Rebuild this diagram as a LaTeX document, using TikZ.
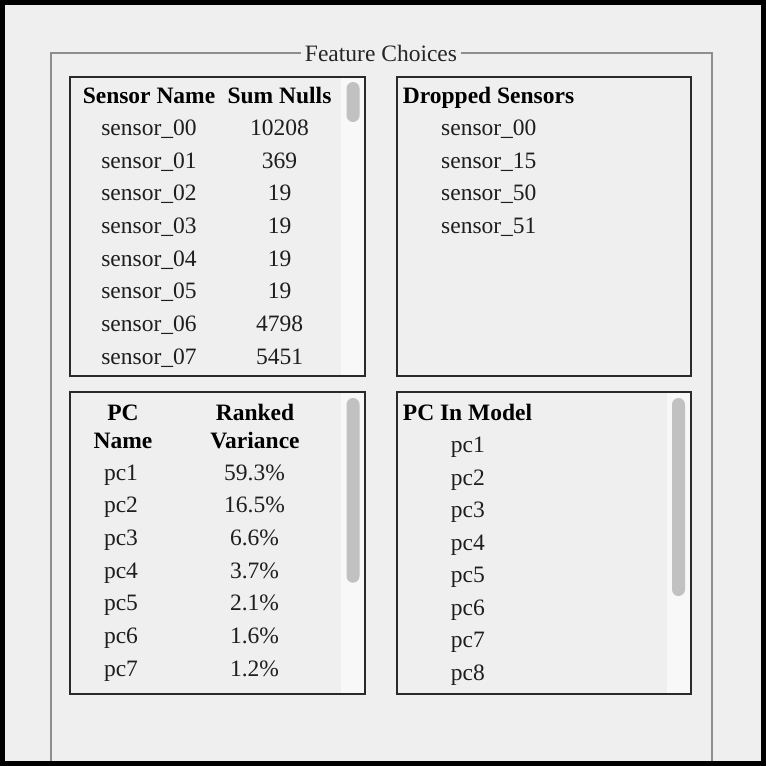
\documentclass[tikz,border=0pt]{standalone}
\usepackage{fontspec}
\setmainfont{Liberation Serif}
\definecolor{bg}{HTML}{EFEFEF}
\definecolor{fsline}{HTML}{8E8E8E}
\definecolor{boxline}{HTML}{2A2A2A}
\definecolor{track}{HTML}{F8F8F8}
\definecolor{thumbc}{HTML}{C1C1C1}
\definecolor{txt}{HTML}{1E1E1E}
\tikzset{
  lbl/.style={inner sep=0pt, font=\fontsize{23.5}{28}\selectfont, text=txt},
  hdr/.style={lbl, font=\fontsize{23.5}{28}\selectfont\bfseries, text=black},
  fsl/.style={draw=fsline, line width=2pt},
  boxr/.style={draw=boxline, line width=2pt},
  trackr/.style={fill=track},
  thumbr/.style={fill=thumbc, rounded corners=6.5pt},
}
\begin{document}
\begin{tikzpicture}[x=1pt,y=-1pt]
\useasboundingbox (0,0) rectangle (766,766);
\fill[black] (0,0) rectangle (766,766);
\fill[bg] (5,5) rectangle (761,761);
% fieldset
\node[lbl, anchor=base, text=black!85, inner xsep=3.5pt] (title) at (381,61.7) {Feature Choices};
\coordinate (fsy) at (0,52.7);
\draw[fsl] (title.west |- fsy) -- (50.7,52.7) -- (50.7,761);
\draw[fsl] (title.east |- fsy) -- (712.3,52.7) -- (712.3,761);
% top-left box
\fill[trackr] (341,78) rectangle (364,374.5);
\fill[thumbr] (346.5,82) rectangle (359.5,122);
\draw[boxr] (70.3,77) rectangle (365,375.5);
% top-right box
\draw[boxr] (396.7,77) rectangle (691,375.5);
% bottom-left box
\fill[trackr] (341,393.3) rectangle (364,693);
\fill[thumbr] (346.5,398) rectangle (359.5,582.7);
\draw[boxr] (70.3,392.3) rectangle (365,694);
% bottom-right box
\fill[trackr] (666.7,393.3) rectangle (690,693);
\fill[thumbr] (672,398) rectangle (685,596);
\draw[boxr] (396.7,392.3) rectangle (691,694);
% top-left content
\node[hdr, anchor=base] (tlh1) at (149,103) {Sensor Name};
\node[hdr, anchor=base] (tlh2) at (279.5,103) {Sum Nulls};
\foreach \i/\s/\v in {0/00/10208,1/01/369,2/02/19,3/03/19,4/04/19,5/05/19,6/06/4798,7/07/5451}{
  \node[lbl, anchor=base] (tln\i) at (149,135.5+32.67*\i) {sensor\_\s};
  \node[lbl, anchor=base] (tlv\i) at (279.5,135.5+32.67*\i) {\v};
}
% top-right content
\node[hdr, anchor=base west] (trh) at (402.7,103) {Dropped Sensors};
\foreach \i/\s in {0/00,1/15,2/50,3/51}{
  \node[lbl, anchor=base west] (trn\i) at (441,135.5+32.67*\i) {sensor\_\s};
}
% bottom-left content
\node[hdr, anchor=base] (blh1a) at (123,420) {PC};
\node[hdr, anchor=base] (blh1b) at (123,448.3) {Name};
\node[hdr, anchor=base] (blh2a) at (255,420) {Ranked};
\node[hdr, anchor=base] (blh2b) at (255,448.3) {Variance};
\foreach \i/\v in {1/59.3,2/16.5,3/6.6,4/3.7,5/2.1,6/1.6,7/1.2}{
  \node[lbl, anchor=base] (bln\i) at (121,480+32.67*\i-32.67) {pc\i};
  \node[lbl, anchor=base] (blv\i) at (254.5,480+32.67*\i-32.67) {\v\%};
}
% bottom-right content
\node[hdr, anchor=base west] (brh) at (402.7,420) {PC In Model};
\foreach \i in {1,...,8}{
  \node[lbl, anchor=base west] (brn\i) at (450.7,452.7+32.5*\i-32.5) {pc\i};
}
\end{tikzpicture}
\end{document}
